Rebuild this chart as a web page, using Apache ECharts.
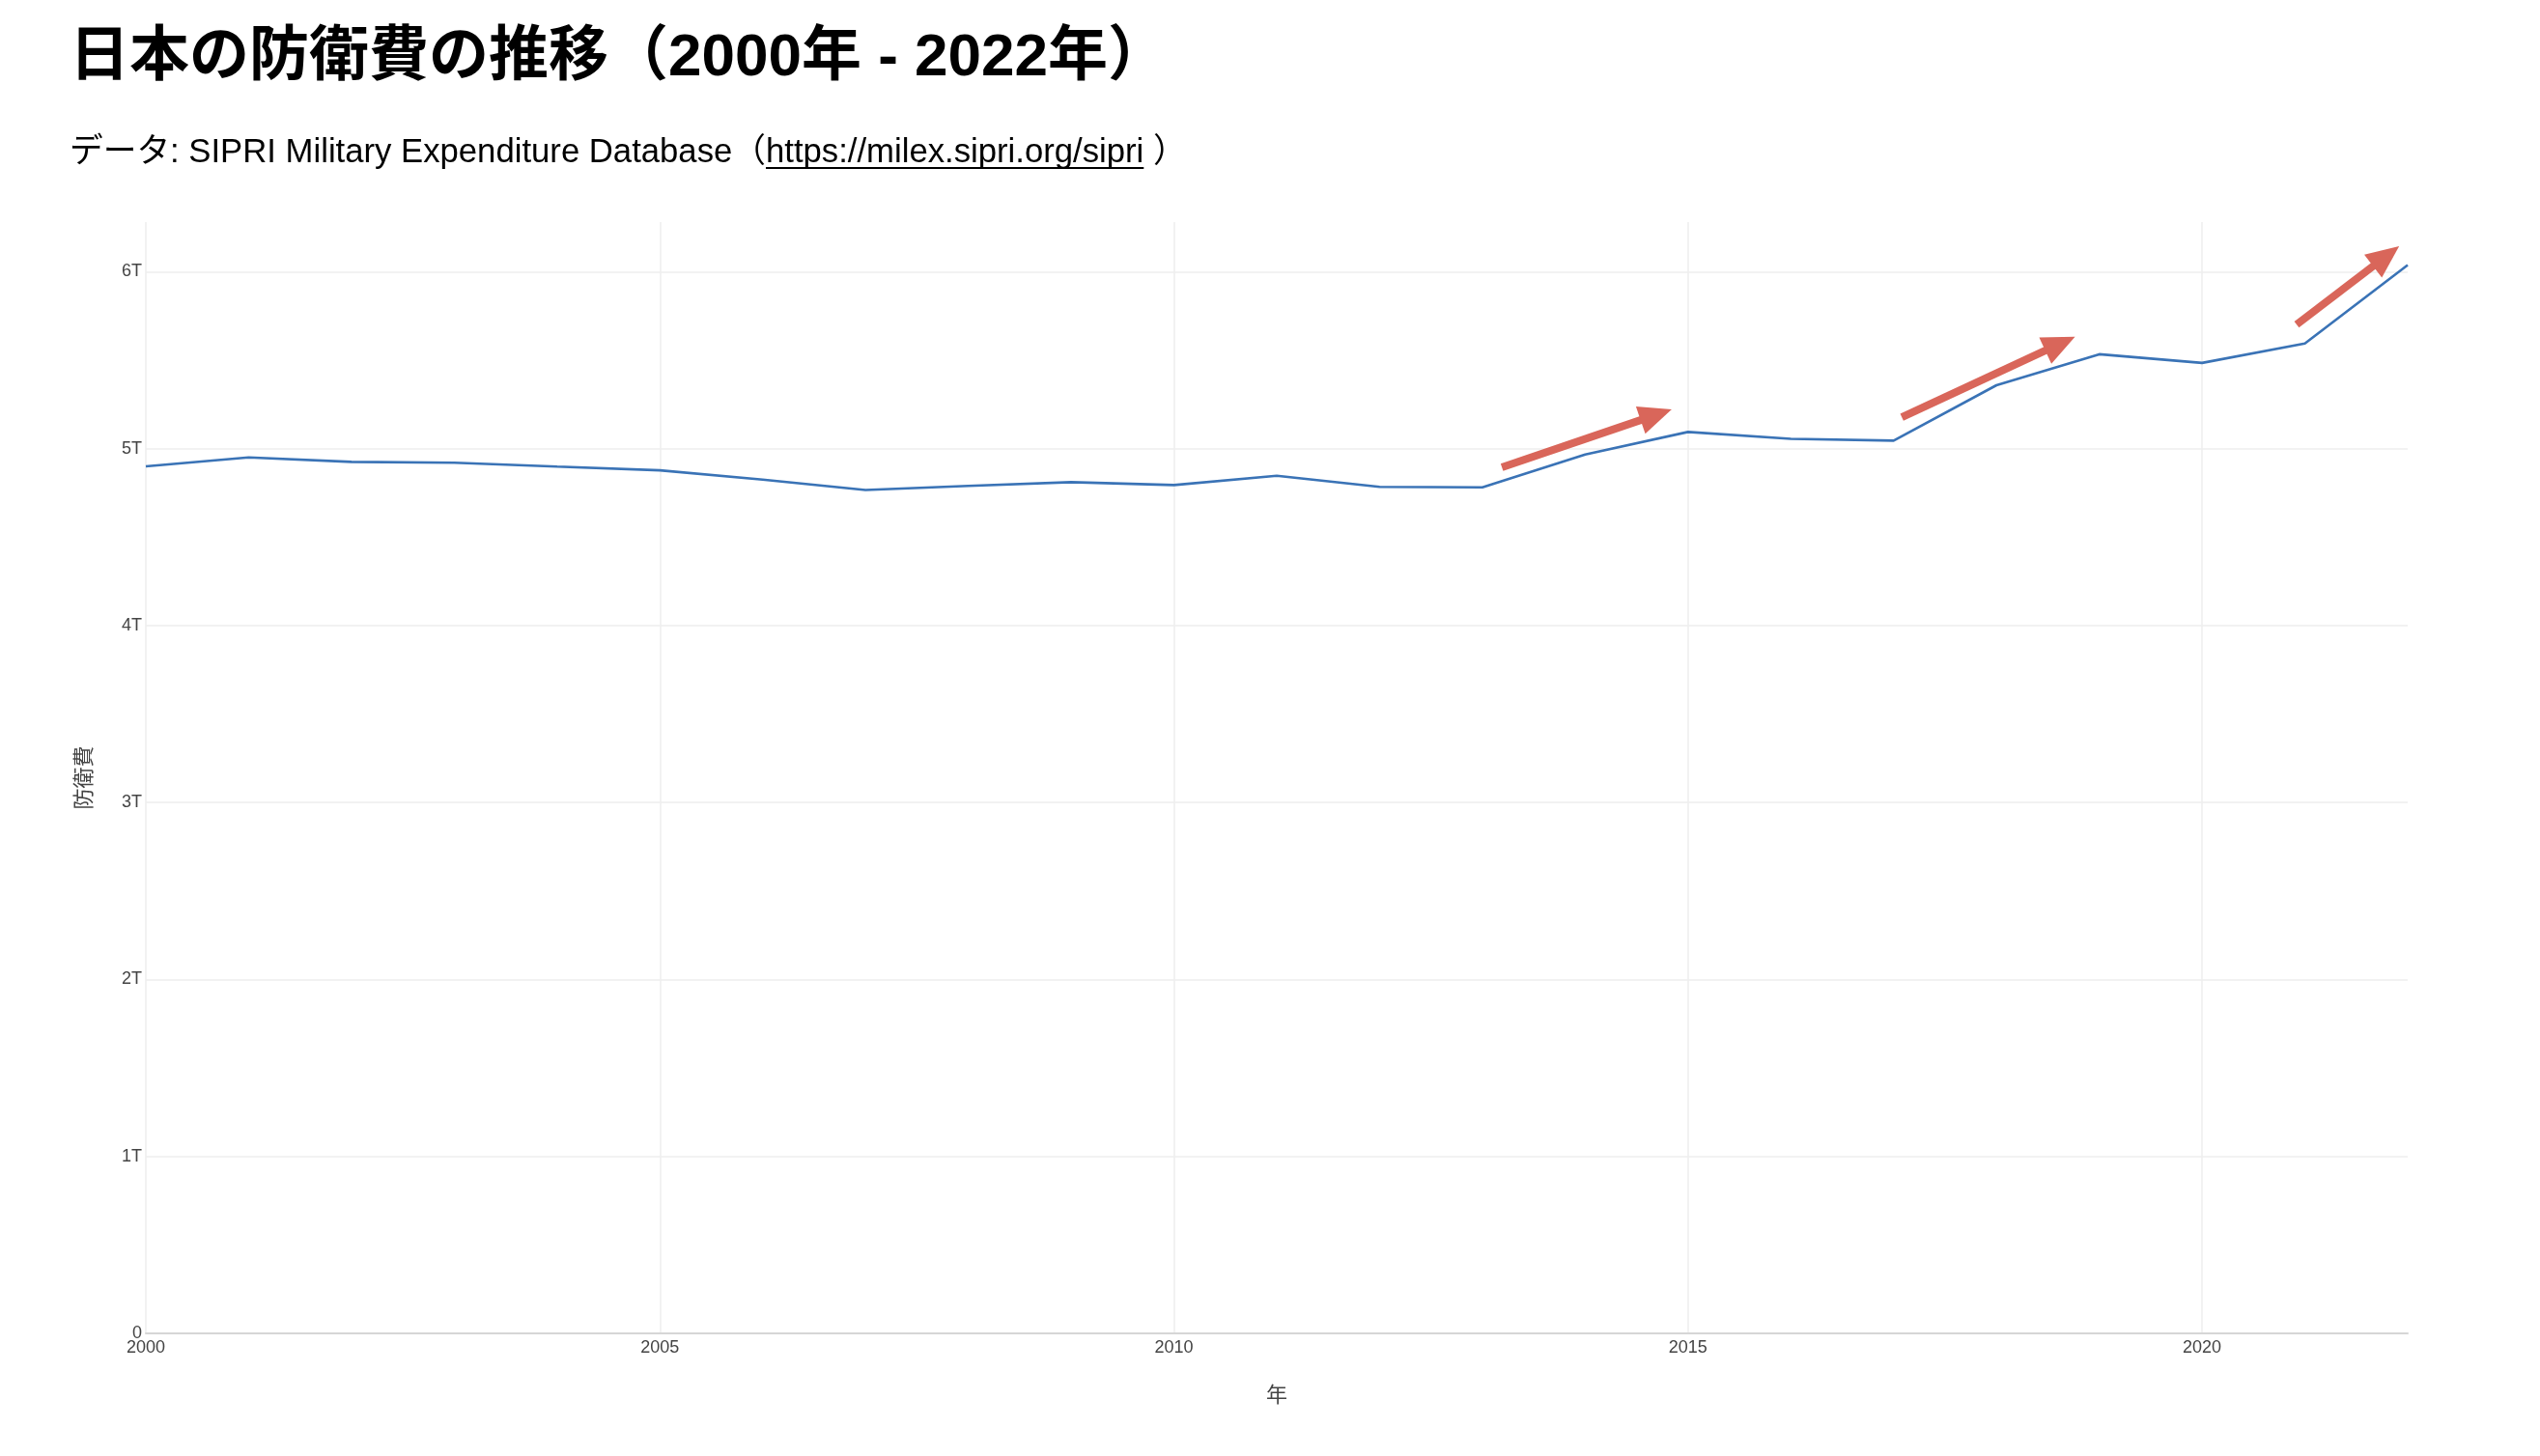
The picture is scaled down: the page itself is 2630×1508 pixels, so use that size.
<!DOCTYPE html>
<html><head><meta charset="utf-8">
<script src="https://cdn.jsdelivr.net/npm/echarts@6/dist/echarts.min.js"></script>
<style>html,body{margin:0;padding:0;background:#fff}#c{width:2630px;height:1508px}</style>
</head><body><div id="c"></div>
<script>
// ---- data ----
const years = [2000,2001,2002,2003,2004,2005,2006,2007,2008,2009,2010,2011,2012,2013,2014,2015,2016,2017,2018,2019,2020,2021,2022];
const spendingTrillionYen = [4.900,4.950,4.925,4.920,4.898,4.877,4.825,4.766,4.789,4.810,4.794,4.846,4.784,4.781,4.966,5.094,5.055,5.045,5.358,5.533,5.484,5.594,6.037];
const xTicks = [2000,2005,2010,2015,2020];
const yTicks = [0,1,2,3,4,5,6];
// arrow annotations: tail point and arrow-head centre (year, trillion yen)
const arrowStarts = [[2013.19,4.894],[2017.08,5.177],[2020.92,5.701]];
const arrowHeads  = [[2014.69,5.191],[2018.62,5.593],[2021.79,6.087]];
const titleText = '日本の防衛費の推移（2000年 - 2022年）';
const subPrefix = 'データ: SIPRI Military Expenditure Database（';
const subUrl = 'https://milex.sipri.org/sipri';
const subSuffix = ' ）';
const xName = '年';
const yName = '防衛費';

// ---- rendering ----
const FONT = '"Liberation Sans", "Noto Sans CJK JP", sans-serif';
const chart = echarts.init(document.getElementById('c'), null, {renderer: 'canvas'});

const ctx = document.createElement('canvas').getContext('2d');
const SUB_SIZE = 34.7;
ctx.font = SUB_SIZE + 'px ' + FONT;
const w1 = ctx.measureText(subPrefix).width;
const w2 = ctx.measureText(subUrl).width;
const SUB_X = 72, SUB_Y = 158;

const seriesData = years.map((y, i) => [y, spendingTrillionYen[i]]);
const arrowData = arrowStarts.map((s, i) => [{coord: s}, {coord: arrowHeads[i]}]);

chart.setOption({
  animation: false,
  backgroundColor: '#fff',
  grid: {left: 151, right: 137, top: 230, bottom: 127, containLabel: false},
  xAxis: {
    type: 'value', min: 2000, max: 2022, interval: 5,
    name: xName, nameLocation: 'middle', nameGap: 54,
    nameTextStyle: {fontFamily: FONT, fontSize: 22, color: '#444'},
    axisLine: {show: true, onZero: false, lineStyle: {color: '#d6d6d6', width: 2}},
    axisTick: {show: false, customValues: xTicks},
    axisLabel: {customValues: xTicks, fontFamily: FONT, fontSize: 18, color: '#444', margin: 6,
      formatter: v => String(v)},
    splitLine: {show: true, lineStyle: {color: '#eeeeee', width: 1.5}}
  },
  yAxis: {
    type: 'value', min: 0, max: 6.28,
    name: yName, nameLocation: 'middle', nameGap: 52, nameRotate: 90,
    nameTextStyle: {fontFamily: FONT, fontSize: 22, color: '#444'},
    axisLine: {show: false},
    axisTick: {show: false, customValues: yTicks},
    axisLabel: {customValues: yTicks, fontFamily: FONT, fontSize: 18, color: '#444', margin: 4,
      formatter: v => v === 0 ? '0' : v + 'T'},
    splitLine: {show: true, lineStyle: {color: '#eeeeee', width: 1.5}}
  },
  series: [{
    type: 'line',
    data: seriesData,
    showSymbol: false,
    symbol: 'none',
    lineStyle: {color: '#3a73b6', width: 2.6},
    itemStyle: {color: '#3a73b6'},
    silent: true,
    markLine: {
      silent: true,
      symbol: ['none', 'triangle'],
      symbolSize: [30, 34],
      label: {show: false},
      emphasis: {disabled: true},
      lineStyle: {color: '#d9665a', width: 8, type: 'solid'},
      itemStyle: {color: '#d9665a'},
      data: arrowData
    }
  }],
  graphic: [
    {type: 'text', x: 72, y: 61, style: {text: titleText, font: 'bold 62px ' + FONT, fill: '#000', textVerticalAlign: 'middle'}},
    {type: 'text', x: SUB_X, y: SUB_Y, style: {text: subPrefix, font: SUB_SIZE + 'px ' + FONT, fill: '#000', textVerticalAlign: 'middle'}},
    {type: 'text', x: SUB_X + w1, y: SUB_Y, style: {text: subUrl, font: SUB_SIZE + 'px ' + FONT, fill: '#000', textVerticalAlign: 'middle'}},
    {type: 'line', shape: {x1: SUB_X + w1, y1: SUB_Y + 16, x2: SUB_X + w1 + w2, y2: SUB_Y + 16}, style: {stroke: '#000', lineWidth: 2}},
    {type: 'text', x: SUB_X + w1 + w2, y: SUB_Y, style: {text: subSuffix, font: SUB_SIZE + 'px ' + FONT, fill: '#000', textVerticalAlign: 'middle'}}
  ]
});
</script>
</body></html>
